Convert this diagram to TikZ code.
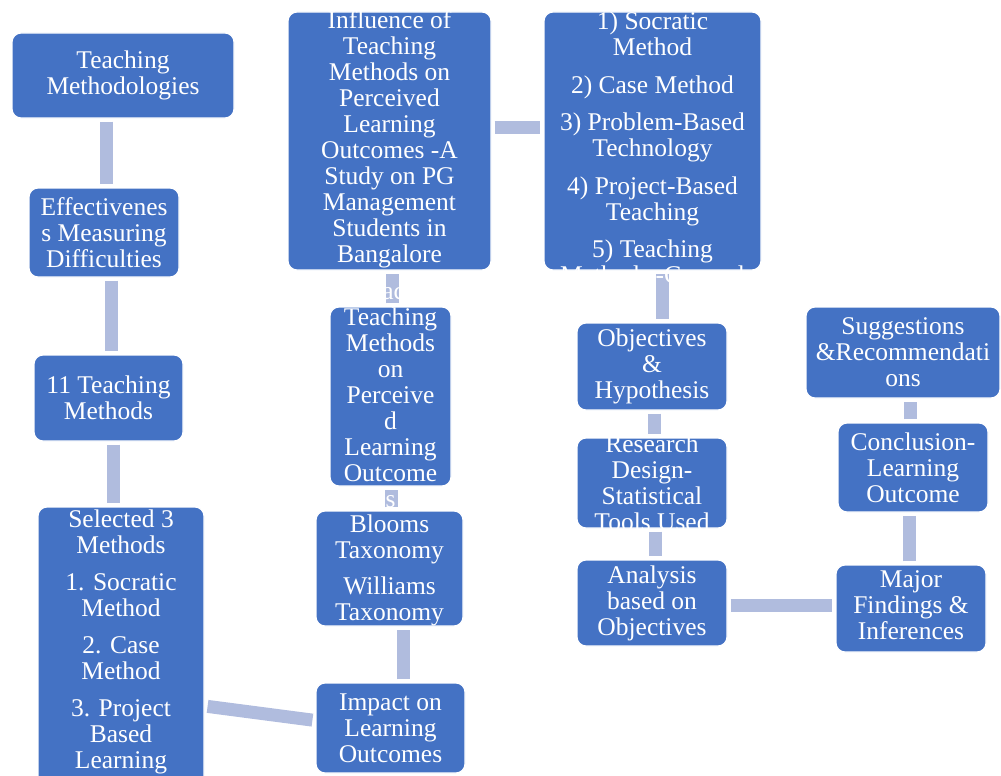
\documentclass[tikz,border=0pt]{standalone}
\usepackage{fontspec}
\setmainfont{Liberation Serif}
\definecolor{boxC}{HTML}{4472C4}
\definecolor{connC}{HTML}{B0BCDE}
\begin{document}
\begin{tikzpicture}[x=1pt,y=-1pt,
  bx/.style={draw=white, line width=1.2pt, fill=boxC, rounded corners=9pt, inner sep=0pt},
  tx/.style={text=white, align=center, inner sep=0pt, font=\fontsize{25.5}{26}\selectfont},
  conn/.style={draw=connC, line width=13pt, shorten >=3pt, shorten <=3pt}]
\useasboundingbox (0,0) rectangle (1001,776);
\clip (0,0) rectangle (1001,776);
% boxes
\node[bx, minimum width=222pt, minimum height=85pt] (tm) at (123,75.5) {};
\node[bx, minimum width=150pt, minimum height=89pt] (eff) at (104,232.5) {};
\node[bx, minimum width=149pt, minimum height=86pt] (elev) at (108.5,398) {};
\node[bx, minimum width=166pt, minimum height=278pt] (sel) at (121,646) {};
\node[bx, minimum width=203pt, minimum height=258pt] (infl) at (389.5,141) {};
\node[bx, minimum width=217pt, minimum height=258pt] (list) at (652.5,141) {};
\node[bx, minimum width=121pt, minimum height=179pt] (tmplo) at (390.5,396.5) {};
\node[bx, minimum width=147pt, minimum height=115pt] (bloom) at (389.5,568.5) {};
\node[bx, minimum width=149pt, minimum height=90pt] (impact) at (390.5,728) {};
\node[bx, minimum width=150pt, minimum height=87pt] (obj) at (652,366.5) {};
\node[bx, minimum width=150pt, minimum height=90pt] (res) at (652,483) {};
\node[bx, minimum width=150pt, minimum height=86pt] (ana) at (652,603) {};
\node[bx, minimum width=194pt, minimum height=91pt] (sug) at (903,352.5) {};
\node[bx, minimum width=150pt, minimum height=89pt] (conc) at (913,467.5) {};
\node[bx, minimum width=150pt, minimum height=87pt] (major) at (911,608.5) {};
% connectors
\draw[conn] ([xshift=-17pt]tm.south) -- ([xshift=2pt]eff.north);
\draw[conn] ([xshift=7pt]eff.south) -- ([xshift=2.5pt]elev.north);
\draw[conn] ([xshift=4.5pt]elev.south) -- ([xshift=-8pt]sel.north);
\draw[conn] ([yshift=-60pt]sel.east) -- ([yshift=7.5pt]impact.west);
\draw[conn] ([xshift=12.5pt]impact.north) -- ([xshift=13.5pt]bloom.south);
\draw[conn] ([xshift=1.5pt]bloom.north) -- ([xshift=0.5pt]tmplo.south);
\draw[conn] ([xshift=1.5pt]tmplo.north) -- ([xshift=2.5pt]infl.south);
\draw[conn] ([yshift=13.5pt]infl.east) -- ([yshift=13.5pt]list.west);
\draw[conn] ([xshift=9.5pt]list.south) -- ([xshift=10pt]obj.north);
\draw[conn] ([xshift=2pt]obj.south) -- ([xshift=2pt]res.north);
\draw[conn] ([xshift=3pt]res.south) -- ([xshift=3pt]ana.north);
\draw[conn] ([yshift=-2.5pt]ana.east) -- ([yshift=3pt]major.west);
\draw[conn] ([xshift=-2pt]major.north) -- ([xshift=-4pt]conc.south);
\draw[conn] ([xshift=-3pt]conc.north) -- ([xshift=7pt]sug.south);
% texts
\node[tx] (tm-t) at (tm) {Teaching\\Methodologies};
\node[tx] (eff-t) at (eff) {Effectivenes\\s Measuring\\Difficulties};
\node[tx] (elev-t) at (elev) {11 Teaching\\Methods};
\node[tx] (sel-t) at ([yshift=4pt]sel.center) {Selected 3\\Methods\\[11pt]1. Socratic\\Method\\[11pt]2. Case\\Method\\[11pt]3. Project\\Based\\Learning};
\node[tx] (infl-t) at ([yshift=2pt]infl.center) {Influence of\\Teaching\\Methods on\\Perceived\\Learning\\Outcomes -A\\Study on PG\\Management\\Students in\\Bangalore};
\node[tx] (list-t) at ([yshift=-7pt]list.center) {1) Socratic\\Method\\[11.5pt]2) Case Method\\[11.5pt]3) Problem-Based\\Technology\\[11.5pt]4) Project-Based\\Teaching\\[11.5pt]5) Teaching\\Methods -General};
\node[tx] (tmplo-t) at ([yshift=2pt]tmplo.center) {Impact of\\Teaching\\Methods\\on\\Perceive\\d\\Learning\\Outcome\\s};
\node[tx] (bloom-t) at ([yshift=-2pt]bloom.center) {Blooms\\Taxonomy\\[10pt]Williams\\Taxonomy};
\node[tx] (impact-t) at (impact) {Impact on\\Learning\\Outcomes};
\node[tx] (obj-t) at (obj) {Objectives\\\&\\Hypothesis};
\node[tx] (res-t) at (res) {Research\\Design-\\Statistical\\Tools Used};
\node[tx] (ana-t) at (ana) {Analysis\\based on\\Objectives};
\node[tx] (sug-t) at (sug) {Suggestions\\\&Recommendati\\ons};
\node[tx] (conc-t) at (conc) {Conclusion-\\Learning\\Outcome};
\node[tx] (major-t) at ([yshift=3pt]major.center) {Major\\Findings \&\\Inferences};
\end{tikzpicture}
\end{document}
